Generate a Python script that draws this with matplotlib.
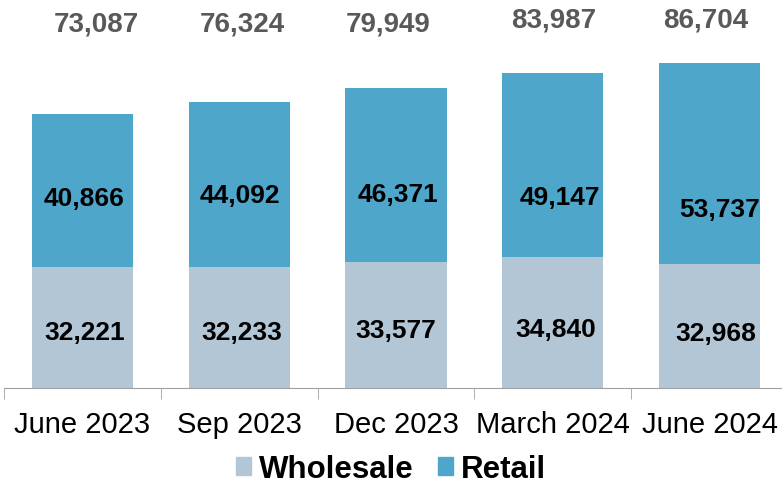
import numpy as np
import matplotlib.pyplot as plt
from matplotlib.patches import Patch

# Dane
categories = ['June 2023', 'Sep 2023', 'Dec 2023', 'March 2024', 'June 2024']
wholesale = np.array([32221, 32233, 33577, 34840, 32968])
retail = np.array([40866, 44092, 46371, 49147, 53737])
totals = np.array([73087, 76324, 79949, 83987, 86704])

c_wholesale = '#B3C6D6'
c_retail = '#4EA7CB'
c_total = '#58595B'

plt.rcParams['font.family'] = ['Liberation Sans', 'DejaVu Sans']

fig = plt.figure(figsize=(7.82, 4.85), dpi=100)
ax_h = 389  # wysokosc osi w pikselach
y_max = 103770
ax = fig.add_axes([4 / 782, 96 / 485, 784 / 782, ax_h / 485])

whs_lab_px = [330.5, 330.5, 328, 326.7, 331]
whs_lab_dx = [1.9, 2.5, 0, 2.8, 6.2]
ret_lab_px = [196, 193, 192, 195, 207]
ret_lab_dx = [1.5, 1, 2, 7.5, 9.5]
tot_lab_px = [22, 22, 22, 17.3, 17.3]
tot_lab_dx = [13.6, 2.8, -8, 1.3, -3.5]


def px2y(p):
    # piksel -> wartosc danych, +3 px korekty na opadanie tekstu
    return (ax_h - p - 3) * y_max / ax_h


def px2dx(d):
    return d / 156.8


x = np.arange(len(categories))
w = 0.645
ax.bar(x, wholesale, w, color=c_wholesale)
ax.bar(x, retail, w, bottom=wholesale, color=c_retail)

for i in range(len(x)):
    ax.text(x[i] + px2dx(whs_lab_dx[i]), px2y(whs_lab_px[i]), f'{wholesale[i]:,}',
            ha='center', va='center', fontsize=19, fontweight='bold', color='black')
    ax.text(x[i] + px2dx(ret_lab_dx[i]), px2y(ret_lab_px[i]), f'{retail[i]:,}',
            ha='center', va='center', fontsize=19, fontweight='bold', color='black')
    ax.text(x[i] + px2dx(tot_lab_dx[i]), px2y(tot_lab_px[i]), f'{totals[i]:,}',
            ha='center', va='center', fontsize=20, fontweight='bold', color=c_total)

ax.set_xlim(-0.5, len(x) - 0.5)
ax.set_ylim(0, y_max)
ax.set_yticks([])
for s in ['top', 'right', 'left']:
    ax.spines[s].set_visible(False)
ax.spines['bottom'].set_color('#A0A0A0')
ax.set_xticks(x)
ax.set_xticklabels(categories, fontsize=21)
ax.tick_params(axis='x', which='major', length=0, pad=16)
ax.set_xticks(np.arange(-0.5, len(x)), minor=True)
ax.tick_params(axis='x', which='minor', length=8, color='#A0A0A0')

handles = [Patch(color=c_wholesale, label='Wholesale'), Patch(color=c_retail, label='Retail')]
fig.legend(handles=handles, loc='center', bbox_to_anchor=(0.5, 15 / 485), ncol=2, frameon=False,
           prop={'weight': 'bold', 'size': 22.5}, handlelength=0.48, handleheight=0.48,
           handletextpad=0.25, columnspacing=0.8, borderpad=0)

fig.savefig('out.png', dpi=100)
